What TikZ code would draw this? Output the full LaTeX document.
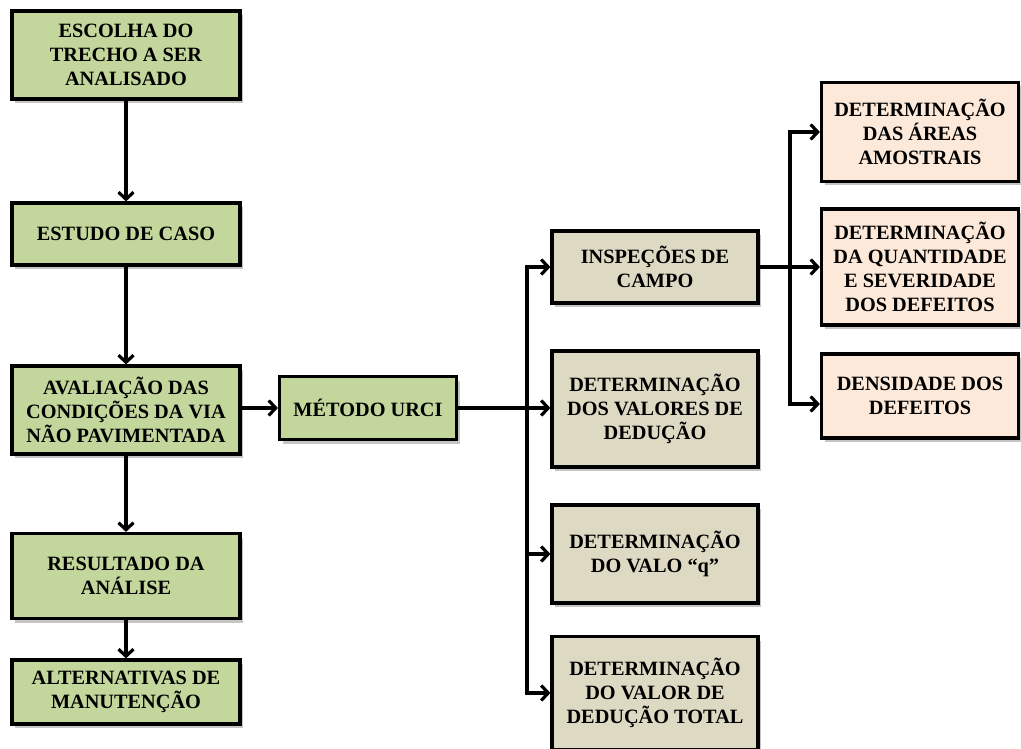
\documentclass[tikz,border=0pt]{standalone}
\usepackage{fontspec}
\setmainfont{Liberation Serif}
\usetikzlibrary{positioning,shadows,arrows.meta}
\definecolor{stagegreen}{HTML}{C3D69B}
\definecolor{tasktan}{HTML}{DDD9C3}
\definecolor{subpeach}{HTML}{FDE9D9}
\tikzset{
  basicblock/.style={rectangle, draw=black, line width=3.2pt, align=center, inner sep=2pt,
    font=\bfseries\fontsize{20.3}{24}\selectfont,
    drop shadow={shadow xshift=3pt, shadow yshift=-4pt, fill=black!45, opacity=.5}},
  stage/.style={basicblock, fill=stagegreen, minimum width=228pt},
  task/.style={basicblock, fill=tasktan, minimum width=206pt},
  subtask/.style={basicblock, fill=subpeach, minimum width=197pt},
  link/.style={line width=3.2pt},
  arrow/.style={link, -{Straight Barb[length=7pt,width=15pt]}}
}
\begin{document}
\begin{tikzpicture}[x=1pt,y=-1pt]
\useasboundingbox (0,0) rectangle (1021,749);

% Main stages

	\node (escolha) [stage, minimum height=88pt] at (126,55) {ESCOLHA DO\\TRECHO A SER\\ANALISADO};
	\node (estudo) [stage, minimum height=62pt] at (126,234) {ESTUDO DE CASO};
	\node (avaliacao) [stage, minimum height=88pt] at (126,410) {AVALIAÇÃO DAS\\CONDIÇÕES DA VIA\\NÃO PAVIMENTADA};
	\node (resultado) [stage, minimum height=85pt] at (126,576) {RESULTADO DA\\ANÁLISE};
	\node (alternativas) [stage, minimum height=64pt] at (126,692) {ALTERNATIVAS DE\\MANUTENÇÃO};

	\node (urci) [stage, minimum width=177pt, minimum height=63pt] at (368,408) {MÉTODO URCI};


% URCI steps

	\node (inspecoes) [task, minimum height=72pt] at (655,267) {INSPEÇÕES DE\\CAMPO};
	\node (deducao) [task, minimum height=116pt] at (655,409) {DETERMINAÇÃO\\DOS VALORES DE\\DEDUÇÃO};
	\node (valoq) [task, minimum height=98pt] at (655,554) {DETERMINAÇÃO\\DO VALO “q”};
	\node (total) [task, minimum height=113pt] at (655,693) {DETERMINAÇÃO\\DO VALOR DE\\DEDUÇÃO TOTAL};


% Field inspection

	\node (areas) [subtask, minimum height=99pt] at (920,132) {DETERMINAÇÃO\\DAS ÁREAS\\AMOSTRAIS};
	\node (quantidade) [subtask, minimum height=116pt] at (920,267) {DETERMINAÇÃO\\DA QUANTIDADE\\E SEVERIDADE\\DOS DEFEITOS};
	\node (densidade) [subtask, minimum height=84pt] at (920,396) {DENSIDADE DOS\\DEFEITOS};

	\coordinate (split) at (527,408);
	\coordinate (fork) at (790,267);


% Main flow
	\draw [arrow] (escolha) -- (estudo);
	\draw [arrow] (estudo) -- (avaliacao);
	\draw [arrow] (avaliacao) -- (resultado);
	\draw [arrow] (resultado) -- (alternativas);
	\draw [arrow] (avaliacao.east |- urci) -- (urci);


% URCI branches
	\draw [link] (urci.east) -- (split);
	\draw [arrow] (split) |- (inspecoes);
	\draw [arrow] (split) -- (deducao.west |- split);
	\draw [arrow] (split) |- (valoq);
	\draw [arrow] (split) |- (total);


% Inspection branches
	\draw [arrow] (inspecoes) -- (quantidade);
	\draw [arrow] (fork) |- (areas);
	\draw [arrow] (fork) |- ([yshift=-8pt]densidade.west);

\end{tikzpicture}
\end{document}
